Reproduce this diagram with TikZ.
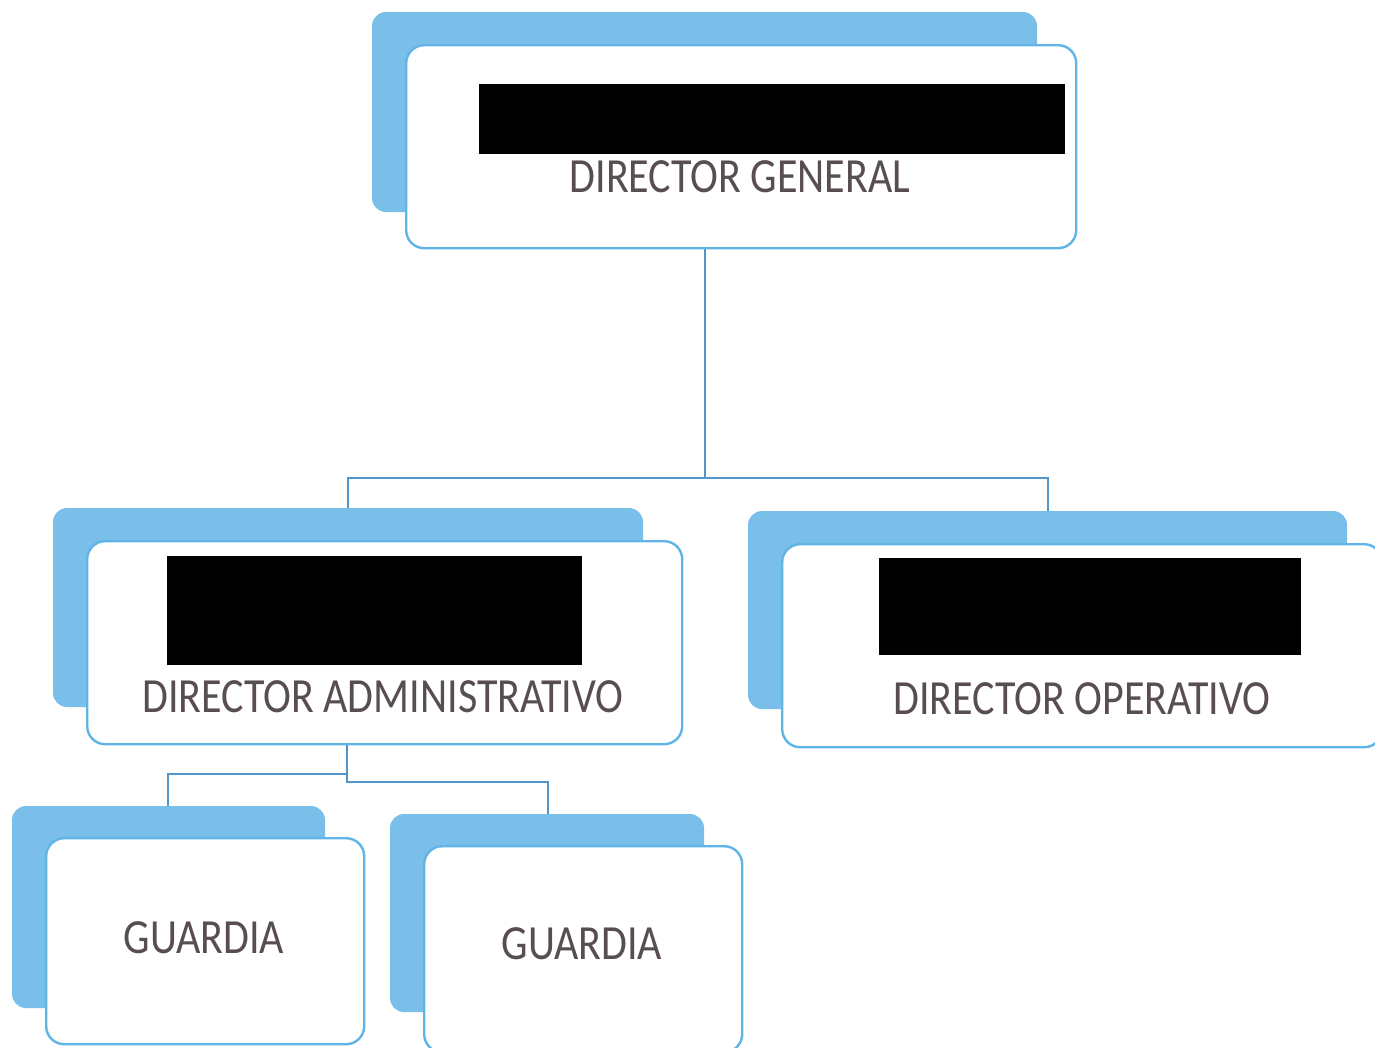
\documentclass[tikz,border=0pt]{standalone}
\usepackage{fontspec}
\usepackage{graphicx}
\setmainfont{Carlito}
\definecolor{backblue}{RGB}{122,191,234}
\definecolor{edgeblue}{RGB}{96,180,230}
\definecolor{linkblue}{RGB}{80,150,205}
\definecolor{txtgray}{RGB}{88,78,82}
\tikzset{
  backbox/.style={fill=backblue, draw=none, rounded corners=14pt},
  frontbox/.style={fill=white, draw=edgeblue, line width=2.4pt, rounded corners=18pt},
  redact/.style={fill=black, draw=none},
  lbl/.style={text=txtgray, font=\fontsize{42}{48}\selectfont, inner sep=0pt},
  link/.style={draw=linkblue, line width=2pt}
}
\newcommand{\tall}[1]{\scalebox{1}[1.17]{#1}}
\begin{document}
\begin{tikzpicture}[x=1pt,y=-1pt]
\useasboundingbox (0,0) rectangle (1375,1047);
\clip (0,0) rectangle (1375,1047);
\fill[white] (0,0) rectangle (1375,1047);
% Director general
\path[backbox] (372,12) rectangle (1037,212);
\node[frontbox, minimum width=670pt, minimum height=203pt, anchor=north west] (dg) at (405,44) {};
\fill[redact] (479,84) rectangle (1065,154);
\node[lbl] (dgt) at (740,177) {\tall{DIRECTOR GENERAL}};
% Director administrativo
\path[backbox] (53,508) rectangle (643,707);
\node[frontbox, minimum width=595pt, minimum height=203pt, anchor=north west] (da) at (86,540) {};
\fill[redact] (167,556) rectangle (582,665);
\node[lbl] (dat) at (383,697) {\tall{DIRECTOR ADMINISTRATIVO}};
% Director operativo
\path[backbox] (748,511) rectangle (1347,709);
\node[frontbox, minimum width=600pt, minimum height=203pt, anchor=north west] (do) at (781,543) {};
\fill[redact] (879,558) rectangle (1301,655);
\node[lbl] (dot) at (1082,699) {\tall{DIRECTOR OPERATIVO}};
% Guardias
\path[backbox] (12,806) rectangle (325,1008);
\node[frontbox, minimum width=318pt, minimum height=206pt, anchor=north west] (g1) at (45,837) {};
\node[lbl] (g1t) at (204,938) {\tall{GUARDIA}};
\path[backbox] (390,814) rectangle (704,1012);
\node[frontbox, minimum width=318pt, minimum height=206pt, anchor=north west] (g2) at (423,845) {};
\node[lbl] (g2t) at (582,944) {\tall{GUARDIA}};
% connectors
\coordinate (j1) at (705,478);
\coordinate (dat1) at (348,508);
\coordinate (dot1) at (1048,511);
\draw[link] (dg.south -| j1) -- (j1);
\draw[link] (348,478) -- (1048,478);
\draw[link] (348,477) -- (dat1);
\draw[link] (1048,477) -- (dot1);
\coordinate (j2) at (347,774);
\coordinate (g1top) at (168,806);
\coordinate (g2top) at (548,814);
\draw[link] (da.south -| j2) -- (347,782) -- (548,782) -- (g2top);
\draw[link] (347,774) -- (168,774) -- (g1top);
\end{tikzpicture}
\end{document}
